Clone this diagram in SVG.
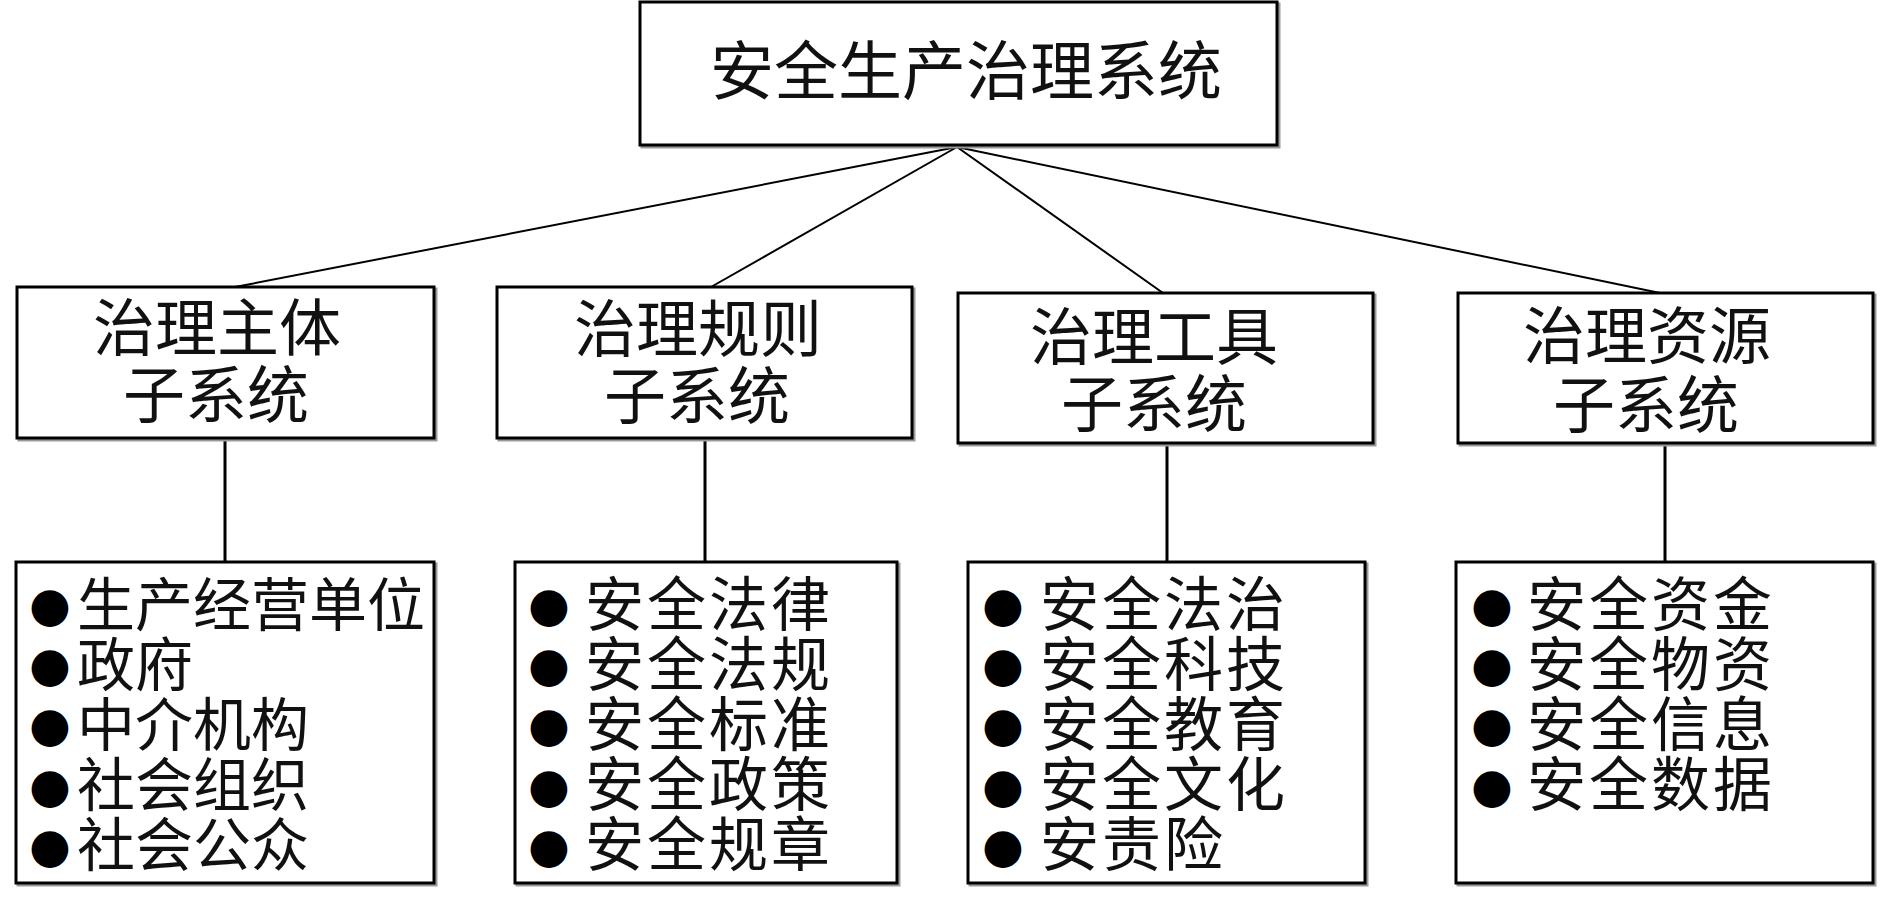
<svg xmlns="http://www.w3.org/2000/svg" width="1890" height="912" viewBox="0 0 1890 912">
<style>
.box{fill:#fff;stroke:#000;stroke-width:3}
.sh{fill:none;stroke:#9a9a9a;stroke-width:3}
.t{font-family:"Noto Sans CJK SC","Noto Sans CJK TC",sans-serif;fill:#111}
.h{font-size:64px;text-anchor:middle}
.m{font-size:62px;text-anchor:middle}
.l{font-size:59px;letter-spacing:3px}
.l1{font-size:58px}
.b{font-family:"DejaVu Sans",sans-serif;font-size:48px;text-anchor:middle;fill:#000}
.c{stroke:#000;stroke-width:2;fill:none}
.v{stroke:#000;stroke-width:3;fill:none}
</style>
<rect width="1890" height="912" fill="#fff"/>
<g id="connectors">
<line class="c" x1="957" y1="147" x2="235" y2="287"/>
<line class="c" x1="957" y1="147" x2="711" y2="287"/>
<line class="c" x1="957" y1="147" x2="1163" y2="293"/>
<line class="c" x1="957" y1="147" x2="1660" y2="293"/>
<line class="v" x1="225" y1="438" x2="225" y2="562"/>
<line class="v" x1="705" y1="438" x2="705" y2="562"/>
<line class="v" x1="1167" y1="443" x2="1167" y2="562"/>
<line class="v" x1="1665" y1="443" x2="1665" y2="562"/>
</g>
<g id="root">
<rect class="sh" x="642" y="4" width="637" height="143"/>
<rect class="box" x="640" y="2" width="637" height="143"/>
<text class="t h" x="966" y="94">安全生产治理系统</text>
</g>
<g id="sub1">
<rect class="sh" x="19" y="289" width="417" height="151"/>
<rect class="box" x="17" y="287" width="417" height="151"/>
<text class="t m" x="217" y="351">治理主体</text>
<text class="t m" x="216" y="418">子系统</text>
</g>
<g id="sub2">
<rect class="sh" x="499" y="289" width="415" height="151"/>
<rect class="box" x="497" y="287" width="415" height="151"/>
<text class="t m" x="698" y="352">治理规则</text>
<text class="t m" x="697" y="419">子系统</text>
</g>
<g id="sub3">
<rect class="sh" x="960" y="295" width="415" height="150"/>
<rect class="box" x="958" y="293" width="415" height="150"/>
<text class="t m" x="1154" y="360">治理工具</text>
<text class="t m" x="1154" y="427">子系统</text>
</g>
<g id="sub4">
<rect class="sh" x="1460" y="295" width="415" height="150"/>
<rect class="box" x="1458" y="293" width="415" height="150"/>
<text class="t m" x="1647" y="359">治理资源</text>
<text class="t m" x="1646" y="428">子系统</text>
</g>
<g id="list1">
<rect class="sh" x="18" y="564" width="418" height="321"/>
<rect class="box" x="16" y="562" width="418" height="321"/>
<text class="b" x="50" y="621">●</text><text class="t l1" x="77" y="626">生产经营单位</text>
<text class="b" x="50" y="681">●</text><text class="t l1" x="77" y="686">政府</text>
<text class="b" x="50" y="741">●</text><text class="t l1" x="77" y="746">中介机构</text>
<text class="b" x="50" y="802">●</text><text class="t l1" x="77" y="806">社会组织</text>
<text class="b" x="50" y="862">●</text><text class="t l1" x="77" y="866">社会公众</text>
</g>
<g id="list2">
<rect class="sh" x="517" y="564" width="382" height="321"/>
<rect class="box" x="515" y="562" width="382" height="321"/>
<text class="b" x="549" y="621">●</text><text class="t l" x="585" y="626">安全法律</text>
<text class="b" x="549" y="681">●</text><text class="t l" x="585" y="686">安全法规</text>
<text class="b" x="549" y="741">●</text><text class="t l" x="585" y="746">安全标准</text>
<text class="b" x="549" y="802">●</text><text class="t l" x="585" y="806">安全政策</text>
<text class="b" x="549" y="862">●</text><text class="t l" x="585" y="866">安全规章</text>
</g>
<g id="list3">
<rect class="sh" x="970" y="564" width="397" height="321"/>
<rect class="box" x="968" y="562" width="397" height="321"/>
<text class="b" x="1003" y="621">●</text><text class="t l" x="1040" y="626">安全法治</text>
<text class="b" x="1003" y="681">●</text><text class="t l" x="1040" y="686">安全科技</text>
<text class="b" x="1003" y="741">●</text><text class="t l" x="1040" y="746">安全教育</text>
<text class="b" x="1003" y="802">●</text><text class="t l" x="1040" y="806">安全文化</text>
<text class="b" x="1003" y="862">●</text><text class="t l" x="1040" y="866">安责险</text>
</g>
<g id="list4">
<rect class="sh" x="1458" y="564" width="417" height="321"/>
<rect class="box" x="1456" y="562" width="417" height="321"/>
<text class="b" x="1492" y="621">●</text><text class="t l" x="1527" y="626">安全资金</text>
<text class="b" x="1492" y="681">●</text><text class="t l" x="1527" y="686">安全物资</text>
<text class="b" x="1492" y="741">●</text><text class="t l" x="1527" y="746">安全信息</text>
<text class="b" x="1492" y="802">●</text><text class="t l" x="1527" y="806">安全数据</text>
</g>
</svg>
